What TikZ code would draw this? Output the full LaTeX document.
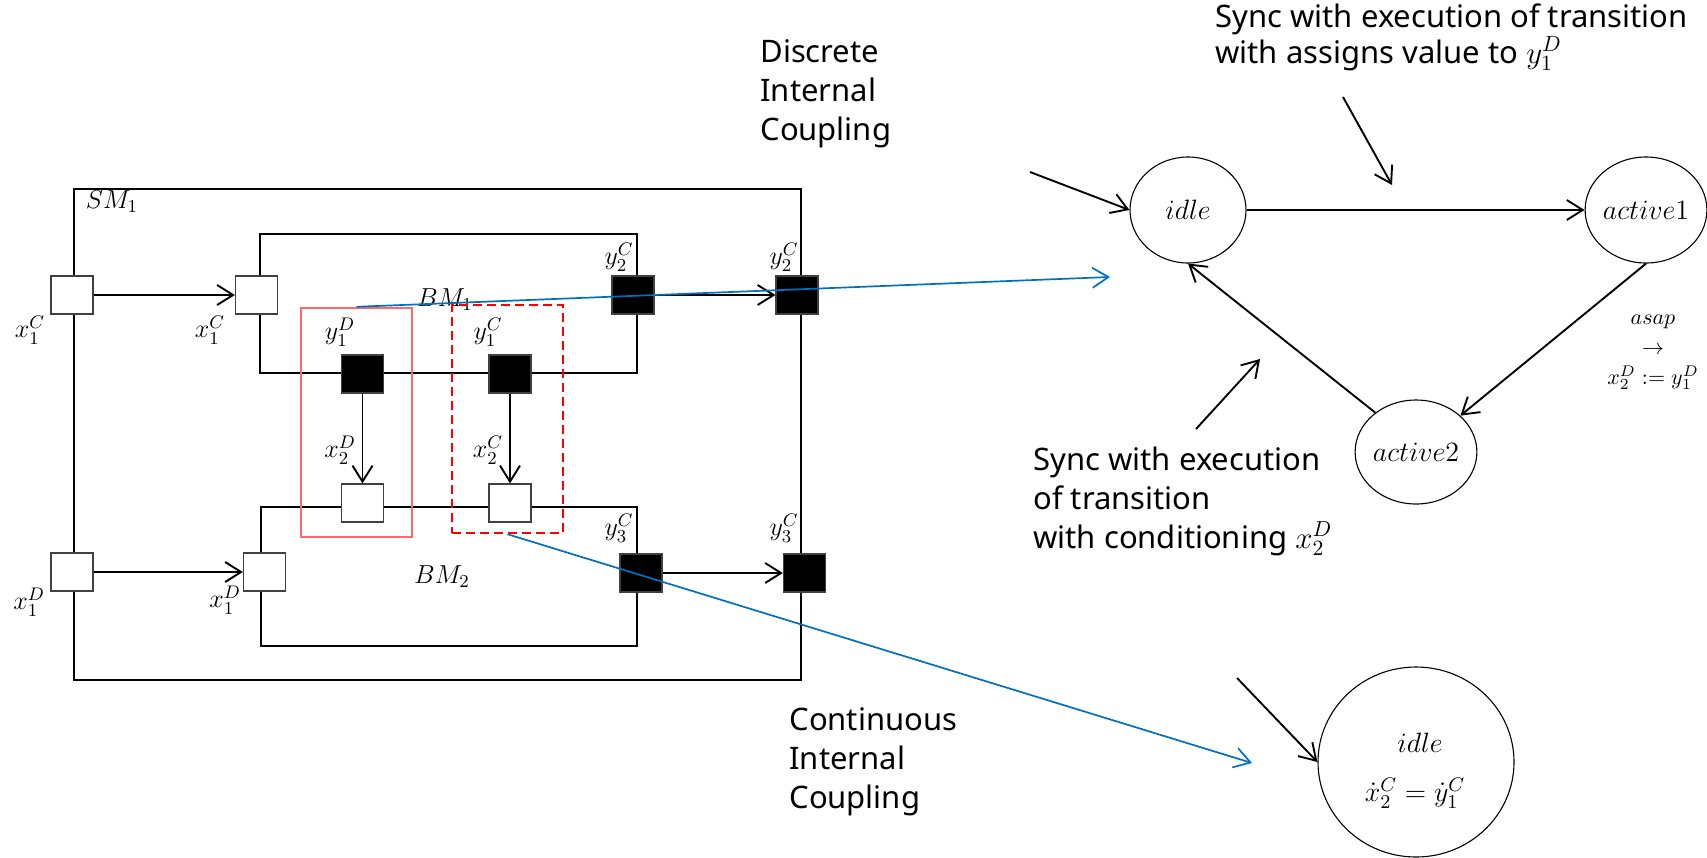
\RequirePackage{fix-cm}
\documentclass[tikz,border=0pt]{standalone}
\usepackage{fontspec}
\setmainfont{Noto Sans}
\usetikzlibrary{arrows.meta,shapes.geometric}
\definecolor{linkblue}{RGB}{0,112,192}
\definecolor{softred}{RGB}{255,105,105}
\definecolor{portgray}{RGB}{64,64,64}

\begin{document}
\begin{tikzpicture}[x=0.5pt,y=-0.5pt,
  frame/.style={draw, line width=0.55pt},
  port/.style={draw=portgray, line width=0.6pt, minimum width=21pt, minimum height=19pt, inner sep=0pt},
  inport/.style={port, fill=white},
  outport/.style={port, fill=black},
  lbl/.style={inner sep=0pt, font=\fontsize{13}{15}\selectfont},
  flow/.style={line width=0.95pt, -{Straight Barb[length=8pt,width=10pt]}},
  link/.style={draw=linkblue, line width=0.85pt, -{Straight Barb[length=8pt,width=10pt]}},
  note/.style={inner sep=0pt, align=left, font=\fontsize{15.5}{19.5}\selectfont},
  state/.style={draw, ellipse, line width=0.55pt, inner sep=0pt, font=\fontsize{14}{16}\selectfont},
]
\useasboundingbox (0,0) rectangle (1707,857);

% structural model and its two behavioural models
\draw[frame] (74,189) rectangle (801,680);
\draw[frame] (260,234) rectangle (637,373);
\draw[frame] (261,507) rectangle (637,646);
\node[lbl] (smname) at (112,202) {$SM_1$};
\node[lbl] (bm1name) at (445,300) {$BM_1$};
\node[lbl] (bm2name) at (442,577) {$BM_2$};

% coupling groups
\node[draw=softred, line width=1.2pt, minimum width=55.5pt, minimum height=114.5pt, inner sep=0pt] (dgrp) at (356.5,422.5) {};
\node[draw=red, dash pattern=on 4.5pt off 2.5pt, line width=1.2pt, minimum width=55.5pt, minimum height=114pt, inner sep=0pt] (cgrp) at (507.5,419) {};

% ports
\node[inport] (smx1c) at (72,295) {};
\node[inport] (bmx1c) at (256.5,295) {};
\node[inport] (smx1d) at (72,572) {};
\node[inport] (bmx1d) at (264.5,572) {};
\node[outport] (bmy2c) at (633,295) {};
\node[outport] (smy2c) at (797,295) {};
\node[outport] (bmy3c) at (641,573) {};
\node[outport] (smy3c) at (804.5,573) {};
\node[outport] (y1d) at (362.5,374) {};
\node[outport] (y1c) at (510,374) {};
\node[inport] (x2d) at (362.5,503) {};
\node[inport] (x2c) at (510,503) {};

% port names
\node[lbl] at (30,330) {$x_1^C$};
\node[lbl] at (210,330) {$x_1^C$};
\node[lbl] at (29,602) {$x_1^D$};
\node[lbl] at (225,600) {$x_1^D$};
\node[lbl] at (619,257) {$y_2^C$};
\node[lbl] at (784,257) {$y_2^C$};
\node[lbl] at (619,528) {$y_3^C$};
\node[lbl] at (784,528) {$y_3^C$};
\node[lbl] at (340,332) {$y_1^D$};
\node[lbl] at (340,450) {$x_2^D$};
\node[lbl] at (488,332) {$y_1^C$};
\node[lbl] at (488,450) {$x_2^C$};

% couplings
\draw[flow] (smx1c) -- (bmx1c);
\draw[flow] (smx1d) -- (bmx1d);
\draw[flow] (bmy2c) -- (smy2c);
\draw[flow] (bmy3c) -- (smy3c);
\draw[flow] (y1d) -- (x2d);
\draw[flow] (y1c) -- (x2c);

% captions (anchored at the baseline of their last line)
\node[note, anchor=base west] (dcap) at (760,140) {Discrete\\Internal\\Coupling};
\node[note, anchor=base west] (ccap) at (789,808) {Continuous\\Internal\\Coupling};
\node[note, anchor=base west] (condcap) at (1033,548) {Sync with execution\\of transition\\with conditioning $x_2^D$};
\node[note, anchor=base west, font=\fontsize{15.5}{15}\selectfont] (assigncap) at (1215,63) {Sync with execution of transition\\with assigns value to $y_1^D$};

% discrete automaton
\node[state, minimum width=58pt, minimum height=53pt] (idle) at (1188,210) {$idle$};
\node[state, minimum width=57pt, minimum height=53pt] (act1) at (1646,210) {$active1$};
\node[state, minimum width=57pt, minimum height=52pt] (act2) at (1416,452) {$active2$};
\node[inner sep=0pt, align=center, font=\fontsize{11}{15}\selectfont] (asap) at (1653,352) {$asap$\\$\rightarrow$\\$x_2^D \mathrel{:=} y_1^D$};
\coordinate (ini1) at (1030,172);
\draw[flow] (ini1) -- (idle.west);
\draw[flow] (idle) -- (act1);
\draw[flow] (act1.south) -- (act2);
\draw[flow] (act2.136) -- (idle.south);

% continuous automaton
\node[state, minimum width=98pt, minimum height=95pt] (idlec) at (1416,762) {};
\node[inner sep=0pt, font=\fontsize{14}{16}\selectfont] (idlecname) at (1420,743) {$idle$};
\node[inner sep=0pt, font=\fontsize{14}{16}\selectfont] (idlecflow) at (1415,793) {$\dot{x}_2^C = \dot{y}_1^C$};
\coordinate (ini2) at (1237,678);
\draw[flow] (ini2) -- (idlec.west);

% annotation pointers
\coordinate (a1s) at (1343,97);
\coordinate (a1e) at (1392,185);
\coordinate (a2s) at (1196,429);
\coordinate (a2e) at (1260,359);
\draw[flow] (a1s) -- (a1e);
\draw[flow] (a2s) -- (a2e);

% links from coupling groups to automata
\coordinate (dend) at (1110,277);
\coordinate (cend) at (1252,763);
\draw[link] (dgrp.north) -- (dend);
\draw[link] (cgrp.south) -- (cend);
\end{tikzpicture}
\end{document}
